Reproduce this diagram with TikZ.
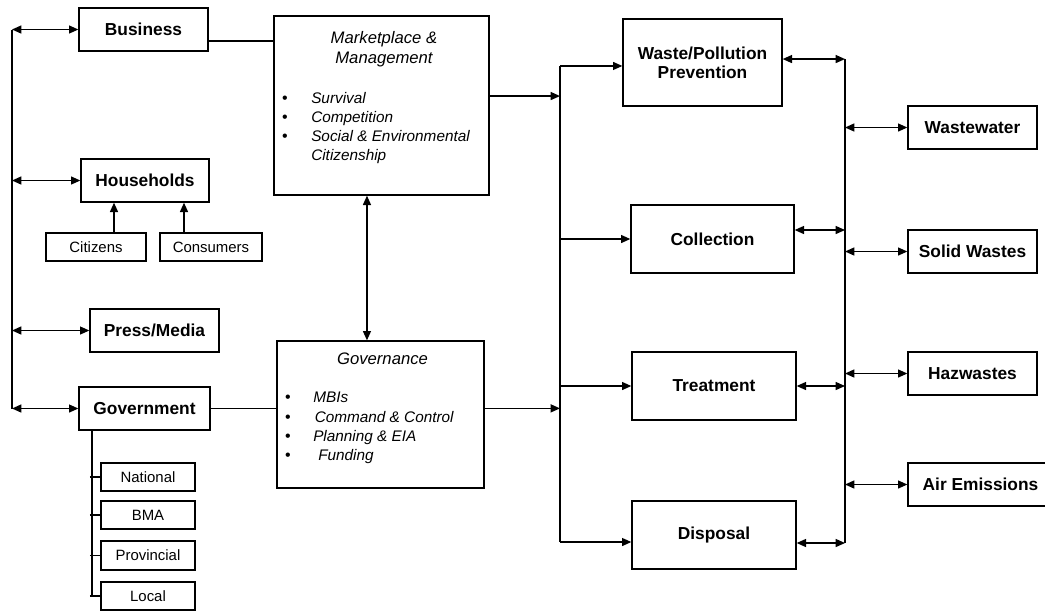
\documentclass[tikz,border=0pt]{standalone}
\usepackage{fontspec}
\setmainfont{Liberation Sans}
\usetikzlibrary{arrows.meta}

\tikzset{
  box/.style={draw, line width=1pt, inner sep=0pt, align=center, font=\fontsize{13}{14.25}\selectfont\bfseries},
  smallbox/.style={draw, line width=1pt, inner sep=0pt, minimum width=70.5pt, minimum height=21pt, font=\fontsize{11.2}{13}\selectfont},
  bigbox/.style={draw, line width=1pt, inner sep=0pt},
  headtext/.style={inner sep=0pt, align=center, font=\fontsize{12.5}{15}\selectfont\itshape},
  itemtext/.style={inner sep=0pt, anchor=base west, font=\fontsize{11.5}{14}\selectfont\itshape},
  dot/.style={inner sep=0pt, anchor=base, font=\fontsize{12}{14}\selectfont},
  line/.style={line width=1pt},
  arr/.style={line width=1pt, -{Triangle[length=7pt,width=6pt]}},
  dblarr/.style={line width=1pt, {Triangle[length=7pt,width=6pt]}-{Triangle[length=7pt,width=6pt]}},
}

\begin{document}
\begin{tikzpicture}[x=0.75pt,y=0.75pt,yscale=-1,xscale=1]
\useasboundingbox (0,0) rectangle (1045,612);

%Shape: Rectangle, left column
\node[box, minimum width=96.75pt, minimum height=32.25pt] (biz) at (143.5,29.5) {Business};
\node[box, minimum width=96pt, minimum height=32.25pt] (hh) at (145,180.5) {Households};
\node[smallbox, minimum width=75pt] (cit) at (96,247) {Citizens};
\node[smallbox, minimum width=76.5pt] (con) at (211,247) {Consumers};
\node[box, minimum width=96.75pt, minimum height=32.25pt] (press) at (154.5,330.5) {Press/Media};
\node[box, minimum width=98.25pt, minimum height=32.25pt] (gov) at (144.5,408.5) {Government};
\node[smallbox] (nat) at (148,477) {National};
\node[smallbox] (bma) at (148,515) {BMA};
\node[smallbox, minimum height=21.75pt] (prov) at (148,555.5) {Provincial};
\node[smallbox] (loc) at (148,596) {Local};

%Shape: Rectangle, middle column
\node[bigbox, minimum width=161.25pt, minimum height=134.25pt] (mkt) at (381.5,105.5) {};
\node[bigbox, minimum width=155.25pt, minimum height=110.25pt] (gvn) at (380.5,414.5) {};

%Shape: Rectangle, stages
\node[box, minimum width=119.25pt, minimum height=65.25pt] (prev) at (702.5,62.5) {Waste/Pollution\\Prevention};
\node[box, minimum width=122.25pt, minimum height=51pt] (coll) at (712.5,239) {Collection};
\node[box, minimum width=123pt, minimum height=51pt] (treat) at (714,386) {Treatment};
\node[box, minimum width=123pt, minimum height=51pt] (disp) at (714,535) {Disposal};

%Shape: Rectangle, waste streams
\node[box, minimum width=96.75pt, minimum height=32.25pt] (ww) at (972.5,127.5) {Wastewater};
\node[box, minimum width=96.75pt, minimum height=32.25pt] (sw) at (972.5,251.5) {Solid Wastes};
\node[box, minimum width=96.75pt, minimum height=32.25pt] (haz) at (972.5,373.5) {Hazwastes};
\node[box, minimum width=108.75pt, minimum height=32.25pt] (air) at (980.5,484.5) {Air Emissions};

% Text Node
\node[headtext] (mkthead) at (384,49.3) {Marketplace \&\\Management};
\node[dot] (md1) at (285,103) {\textbullet};
\node[dot] (md2) at (285,122) {\textbullet};
\node[dot] (md3) at (285,141) {\textbullet};
\node[itemtext] (m1) at (311,103) {Survival};
\node[itemtext] (m2) at (311,122) {Competition};
\node[itemtext] (m3) at (311,141) {Social \& Environmental};
\node[itemtext] (m4) at (311,160.5) {Citizenship};
% Text Node
\node[headtext] (gvnhead) at (382.5,358.3) {Governance};
\node[dot] (gd1) at (288,402) {\textbullet};
\node[dot] (gd2) at (288,422) {\textbullet};
\node[dot] (gd3) at (288,441) {\textbullet};
\node[dot] (gd4) at (288,460) {\textbullet};
\node[itemtext] (g1) at (313,402) {MBIs};
\node[itemtext] (g2) at (314.5,422) {Command \& Control};
\node[itemtext] (g3) at (313,441) {Planning \& EIA};
\node[itemtext] (g4) at (318,460) {Funding};

%Straight Lines, left bus
\coordinate (lbus) at (12,0);
\draw[line] (biz.west -| lbus) -- (gov.west -| lbus);
\draw[dblarr] (biz.west -| lbus) -- (biz.west);
\draw[dblarr] (hh.west -| lbus) -- (hh.west);
\draw[dblarr] (press.west -| lbus) -- (press.west);
\draw[dblarr] (gov.west -| lbus) -- (gov.west);

%Straight Lines, households
\coordinate (citup) at ([xshift=13.5pt]cit.north);
\coordinate (conup) at ([xshift=-20.25pt]con.north);
\draw[arr] (citup) -- (citup |- hh.south);
\draw[arr] (conup) -- (conup |- hh.south);

%Straight Lines, government levels
\coordinate (gdown) at ([xshift=-39.4pt]gov.south);
\coordinate (gtick) at ([xshift=-40.9pt]gov.south);
\draw[line] (gdown) -- (gdown |- loc.west);
\draw[line] (gtick |- nat.west) -- (nat.west);
\draw[line] (gtick |- bma.west) -- (bma.west);
\draw[line] (gtick |- prov.west) -- (prov.west);
\draw[line] (gtick |- loc.west) -- (loc.west);

%Straight Lines, to the middle boxes
\coordinate (bizout) at ([yshift=8.6pt]biz.east);
\draw[line] (bizout) -- (bizout -| mkt.west);
\draw[line] (gov.east) -- (gov.east -| gvn.west);
\coordinate (mktdown) at ([xshift=-10.9pt]mkt.south);
\draw[dblarr] (mktdown) -- (mktdown |- gvn.north);

%Straight Lines, stage bus
\coordinate (rbus) at (560,0);
\coordinate (mktout) at ([yshift=-7.1pt]mkt.east);
\coordinate (gvnout) at ([yshift=-4.6pt]gvn.east);
\coordinate (previn) at ([yshift=2.6pt]prev.west);
\coordinate (dispin) at ([yshift=5.25pt]disp.west);
\draw[arr] (mktout) -- (mktout -| rbus);
\draw[arr] (gvnout) -- (gvnout -| rbus);
\draw[line] (previn -| rbus) -- (dispin -| rbus);
\draw[arr] (previn -| rbus) -- (previn);
\draw[arr] (coll.west -| rbus) -- (coll.west);
\draw[arr] (treat.west -| rbus) -- (treat.west);
\draw[arr] (dispin -| rbus) -- (dispin);

%Straight Lines, stream bus
\coordinate (sbus) at (845,0);
\coordinate (prevout) at ([yshift=-2.6pt]prev.east);
\coordinate (collout) at ([yshift=-6.75pt]coll.east);
\coordinate (dispout) at ([yshift=6pt]disp.east);
\draw[line] (prevout -| sbus) -- (dispout -| sbus);
\draw[dblarr] (prevout) -- (prevout -| sbus);
\draw[dblarr] (collout) -- (collout -| sbus);
\draw[dblarr] (treat.east) -- (treat.east -| sbus);
\draw[dblarr] (dispout) -- (dispout -| sbus);
\draw[dblarr] (ww.west -| sbus) -- (ww.west);
\draw[dblarr] (sw.west -| sbus) -- (sw.west);
\draw[dblarr] (haz.west -| sbus) -- (haz.west);
\draw[dblarr] (air.west -| sbus) -- (air.west);

\end{tikzpicture}
\end{document}
